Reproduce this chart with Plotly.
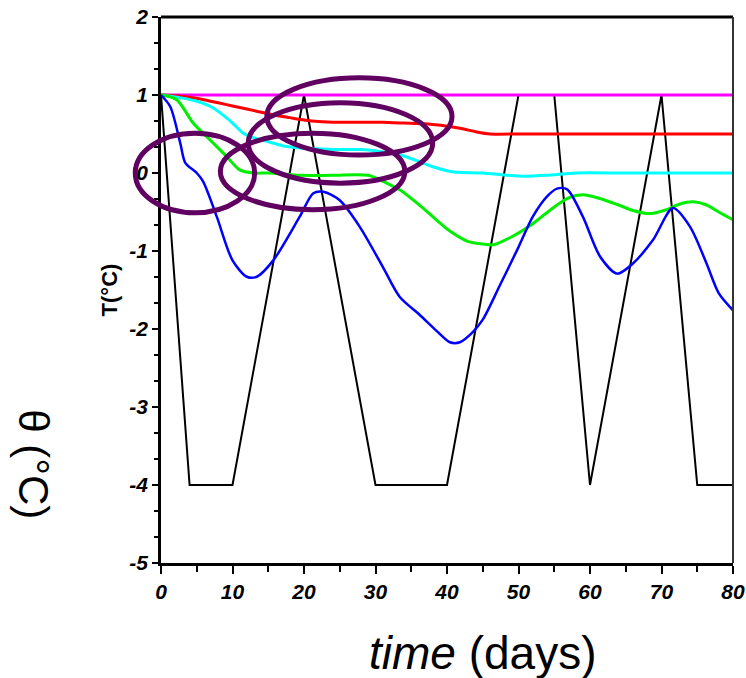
import plotly.graph_objects as go

# ---- data ----
forcing_t = [0, 4, 10, 20, 30, 40, 50, 55, 60, 70, 75, 80]
forcing_T = [1, -4, -4, 1, -4, -4, 1, 1, -4, 1, -4, -4]

mag_t = [0, 80]
mag_T = [1, 1]

red_t = [0, 2, 4, 6, 8, 10, 12, 14, 16, 18, 20, 22, 25, 28, 31, 34, 37, 40, 42, 44, 46, 50, 60, 70, 80]
red_T = [1.0, 0.99, 0.97, 0.94, 0.90, 0.86, 0.82, 0.78, 0.74, 0.71, 0.68, 0.66, 0.65, 0.65, 0.65, 0.64,
         0.63, 0.60, 0.57, 0.53, 0.50, 0.50, 0.50, 0.50, 0.50]

cyan_t = [0, 3, 5, 7, 9, 10, 11.5, 13, 15, 17, 19.5, 22, 25, 28, 31, 33.5, 36, 38, 40, 41.5, 45, 50, 54, 58, 65, 80]
cyan_T = [1.0, 0.96, 0.92, 0.85, 0.72, 0.64, 0.51, 0.45, 0.40, 0.35, 0.32, 0.31, 0.30, 0.30, 0.27, 0.23,
          0.15, 0.08, 0.03, 0.01, 0.0, -0.04, -0.03, 0.0, 0.0, 0.0]

green_t = [0, 2.2, 4.5, 6.9, 9.2, 11, 13, 15, 19.5, 24, 29, 32, 33.5, 36, 38, 40.5, 43, 45, 46.5, 49, 52, 54.5,
           57, 59, 61.5, 64, 66, 68.5, 70.7, 72.5, 74.4, 76.3, 78, 80]
green_T = [1.0, 0.94, 0.64, 0.42, 0.21, 0.04, 0.0, 0.0, -0.03, -0.03, -0.03, -0.15, -0.22, -0.40, -0.56,
           -0.75, -0.88, -0.91, -0.92, -0.82, -0.65, -0.47, -0.32, -0.28, -0.33, -0.41, -0.48, -0.52,
           -0.47, -0.40, -0.37, -0.41, -0.50, -0.60]

blue_t = [0, 1.3, 2.7, 3.4, 5, 5.9, 7.8, 10, 12, 13.4, 15.7, 19.4, 21.3, 22.7, 25, 27.8, 31, 33.4, 36.2,
          38.5, 40.4, 41.8, 43.5, 45, 47.4, 50, 52, 54, 55.4, 56.8, 59, 61.4, 63.8, 66, 68.8, 71.6, 74,
          76.3, 78, 80]
blue_T = [1.0, 0.85, 0.38, 0.13, 0.0, -0.11, -0.56, -1.12, -1.33, -1.33, -1.12, -0.56, -0.26, -0.24,
          -0.35, -0.69, -1.20, -1.59, -1.82, -2.02, -2.17, -2.17, -2.05, -1.88, -1.44, -0.95, -0.56,
          -0.30, -0.20, -0.21, -0.56, -1.07, -1.29, -1.16, -0.86, -0.45, -0.69, -1.16, -1.54, -1.76]

x_ticks = [0, 10, 20, 30, 40, 50, 60, 70, 80]
x_ticktext = ["0", "10", "20", "30", "40", "50", "60", "70", "80"]
y_ticks = [2, 1, 0, -1, -2, -3, -4, -5]
y_ticktext = ["2", "1", "0", "-1", "-2", "-3", "-4", "-5"]

X_RANGE = [0, 80]
Y_RANGE = [-5, 2]

# highlight ellipses (x0, x1, y0, y1) in data units
ellipses = [
    (-3.6, 13.1, -0.51, 0.51),
    (8.3, 34.1, -0.47, 0.51),
    (14.8, 40.7, 0.23, 1.22),
    (12.2, 38.0, -0.13, 0.90),
]


def to_px(v, rng):
    return (v - rng[0]) / (rng[1] - rng[0])


def bi(s):
    return "<b><i>" + s + "</i></b>"


fig = go.Figure()
fig.add_trace(go.Scatter(x=forcing_t, y=forcing_T, mode="lines", line=dict(color="black", width=2)))
fig.add_trace(go.Scatter(x=mag_t, y=mag_T, mode="lines", line=dict(color="#ff00ff", width=3)))
fig.add_trace(go.Scatter(x=red_t, y=red_T, mode="lines", line=dict(color="#ff0000", width=3, shape="spline", smoothing=0.6)))
fig.add_trace(go.Scatter(x=cyan_t, y=cyan_T, mode="lines", line=dict(color="#00ffff", width=3, shape="spline", smoothing=0.6)))
fig.add_trace(go.Scatter(x=green_t, y=green_T, mode="lines", line=dict(color="#00ee00", width=3, shape="spline", smoothing=0.8)))
fig.add_trace(go.Scatter(x=blue_t, y=blue_T, mode="lines", line=dict(color="#0000ff", width=2.5, shape="spline", smoothing=0.8)))

# ellipses in paper coordinates (converted from data units) so they are not clipped
for (x0, x1, y0, y1) in ellipses:
    fig.add_shape(type="circle", xref="paper", yref="paper",
                  x0=to_px(x0, X_RANGE), x1=to_px(x1, X_RANGE),
                  y0=to_px(y0, Y_RANGE), y1=to_px(y1, Y_RANGE),
                  line=dict(color="#600060", width=5), layer="above")

# top and right frame lines
fig.add_shape(type="line", xref="paper", yref="paper", x0=0, x1=1, y0=1, y1=1,
              line=dict(color="black", width=3))
fig.add_shape(type="line", xref="paper", yref="paper", x0=1, x1=1, y0=0, y1=1,
              line=dict(color="#333333", width=2))

tickfont = dict(family="Liberation Sans Narrow, Arial Narrow, Arial", size=21, color="black")

fig.update_layout(
    width=746, height=678,
    font=dict(family="Arial", size=20, color="black"),
    margin=dict(l=161, r=13, t=17, b=115, autoexpand=False),
    paper_bgcolor="white", plot_bgcolor="white",
    showlegend=False,
)
fig.update_xaxes(range=X_RANGE, tickvals=x_ticks, ticktext=[bi(t) for t in x_ticktext],
                 showgrid=False, zeroline=False, automargin=False,
                 showline=True, linecolor="black", linewidth=3,
                 ticks="outside", ticklen=8, tickwidth=2, tickcolor="black",
                 minor=dict(dtick=5, tick0=0, ticks="outside", ticklen=6, tickwidth=2, tickcolor="black"),
                 tickfont=tickfont)
fig.update_yaxes(range=Y_RANGE, tickvals=y_ticks, ticktext=[bi(t) for t in y_ticktext],
                 showgrid=False, zeroline=False, automargin=False,
                 showline=True, linecolor="black", linewidth=2.5,
                 ticks="outside", ticklen=6, tickwidth=2, tickcolor="black",
                 minor=dict(dtick=1/3, tick0=0, ticks="outside", ticklen=4, tickwidth=2, tickcolor="black"),
                 tickfont=tickfont,
                 title_text="<b>T(°C)</b>", title_standoff=6,
                 title_font=dict(family="Arial", size=22, color="black"))

fig.add_annotation(xref="paper", yref="paper", x=-0.222, y=0.181, text="θ (°C)", textangle=90,
                   showarrow=False, xanchor="center", yanchor="middle",
                   font=dict(family="Arial", size=42, color="black"))
fig.add_annotation(xref="paper", yref="paper", x=0.563, y=-0.165,
                   text="<i>time</i> (days)", showarrow=False, xanchor="center", yanchor="middle",
                   font=dict(family="Arial", size=46, color="black"))

fig.write_html("out.html")
